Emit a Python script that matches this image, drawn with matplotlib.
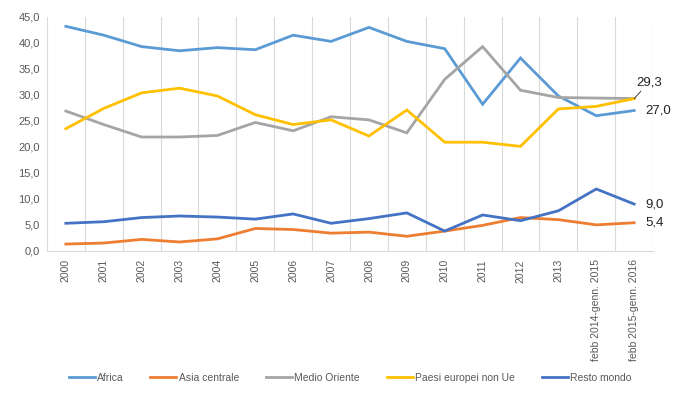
import matplotlib
matplotlib.use('Agg')
import matplotlib.pyplot as plt
from matplotlib.ticker import FuncFormatter, MultipleLocator

plt.rcParams['font.family'] = ['Liberation Sans', 'DejaVu Sans']

periods = ['2000', '2001', '2002', '2003', '2004', '2005', '2006', '2007', '2008',
           '2009', '2010', '2011', '2012', '2013', 'febb 2014-genn. 2015', 'febb 2015-genn. 2016']
africa = [43.2, 41.5, 39.3, 38.5, 39.1, 38.7, 41.5, 40.3, 43.0, 40.3, 38.9, 28.2, 37.1, 29.8, 26.0, 27.0]
asia_centrale = [1.3, 1.5, 2.2, 1.7, 2.3, 4.3, 4.1, 3.4, 3.6, 2.8, 3.8, 4.9, 6.4, 6.0, 5.0, 5.4]
medio_oriente = [26.9, 24.3, 21.9, 21.9, 22.2, 24.7, 23.1, 25.8, 25.2, 22.7, 33.0, 39.3, 30.9, 29.5, 29.4, 29.3]
paesi_europei = [23.5, 27.4, 30.4, 31.3, 29.8, 26.2, 24.3, 25.2, 22.1, 27.1, 20.9, 20.9, 20.1, 27.3, 27.8, 29.3]
resto_mondo = [5.3, 5.6, 6.4, 6.7, 6.5, 6.1, 7.1, 5.3, 6.2, 7.3, 3.8, 6.9, 5.8, 7.7, 11.9, 9.0]

series = [('Africa', africa, '#5B9BD5'),
          ('Asia centrale', asia_centrale, '#ED7D31'),
          ('Medio Oriente', medio_oriente, '#A5A5A5'),
          ('Paesi europei non Ue', paesi_europei, '#FFC000'),
          ('Resto mondo', resto_mondo, '#4472C4')]

fig = plt.figure(figsize=(7, 3.95), dpi=100)
ax = fig.add_axes([0.067, 0.365, 0.866, 0.592])

x = range(len(periods))
for name, vals, col in series:
    ax.plot(x, vals, color=col, lw=2.0, label=name, solid_joinstyle='miter', zorder=3)

ax.set_xlim(-0.5, len(periods) - 0.5)
ax.set_ylim(0, 45)
ax.yaxis.set_major_locator(MultipleLocator(5))
ax.yaxis.set_major_formatter(FuncFormatter(lambda v, p: f'{v:.1f}'.replace('.', ',')))
ax.set_xticks(list(x))
ax.set_xticklabels(periods, rotation=90)
ax.set_xticks([i - 0.5 for i in range(len(periods) + 1)], minor=True)
ax.grid(which='minor', axis='x', color='#D9D9D9', lw=0.8)
ax.tick_params(which='both', length=0, labelsize=7.5, colors='#595959')
ax.tick_params(axis='x', pad=6)
ax.tick_params(axis='y', labelsize=8, pad=5)
for s in ['top', 'right', 'left']:
    ax.spines[s].set_visible(False)
ax.spines['bottom'].set_color('#D9D9D9')

last = len(periods) - 1
lab = lambda v: f'{v:.1f}'.replace('.', ',')
ax.annotate(lab(medio_oriente[-1]), xy=(last, medio_oriente[-1]), xytext=(last + 0.05, 32.4),
            fontsize=9.5, color='#222222', ha='left', va='center', annotation_clip=False,
            arrowprops=dict(arrowstyle='-', color='#222222', lw=0.6, shrinkA=0, shrinkB=0))
for vals in [africa, resto_mondo, asia_centrale]:
    ax.annotate(lab(vals[-1]), xy=(last, vals[-1]), xytext=(8, 0), textcoords='offset points',
                fontsize=9.5, color='#222222', ha='left', va='center', annotation_clip=False)

fig.legend(loc='center', bbox_to_anchor=(0.5, 0.043), ncol=5, frameon=False,
           fontsize=7.5, labelcolor='#595959', handlelength=2.5, columnspacing=2.6, handletextpad=0.2)

fig.savefig('out.png', dpi=100)
